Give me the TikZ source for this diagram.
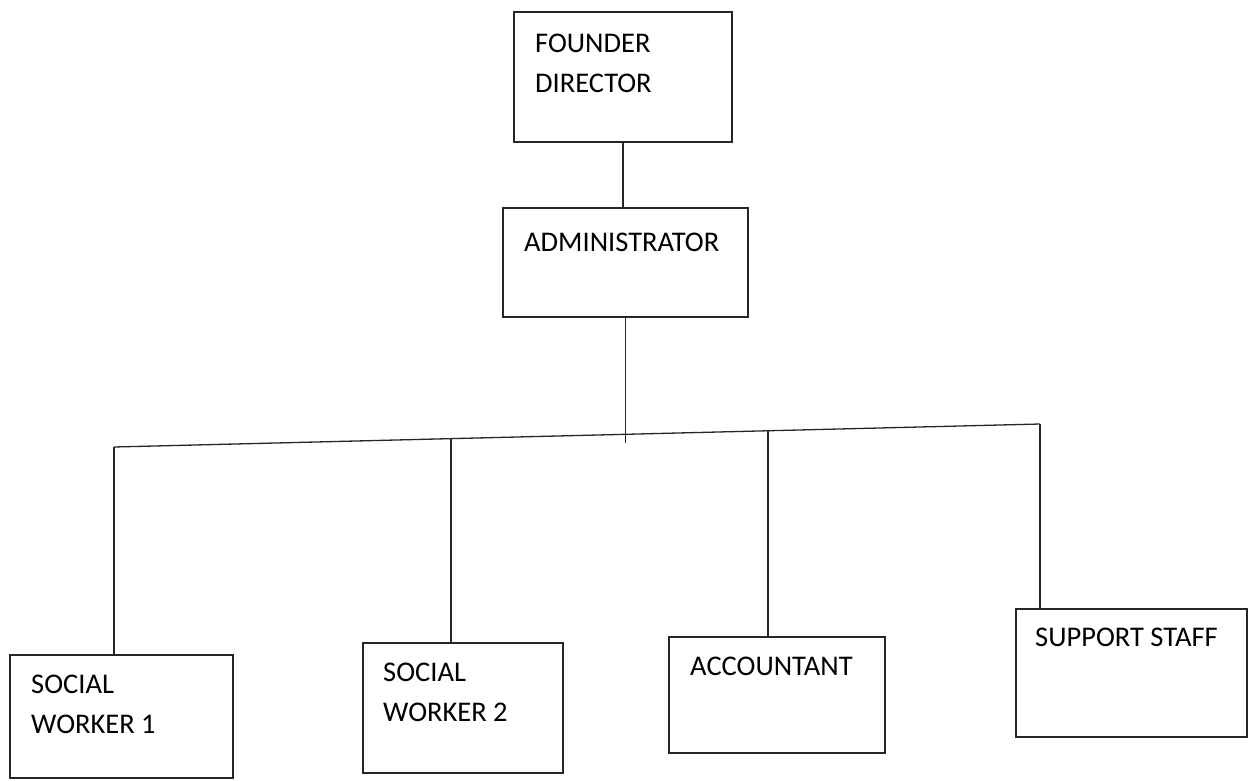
\documentclass[tikz,border=0pt]{standalone}
\usepackage{fontspec}
\setmainfont{Carlito}
\usetikzlibrary{positioning, calc}

\begin{document}
\begin{tikzpicture}[x=1pt, y={(0pt,-1pt)},
  box/.style={draw=black!85, line width=1.3pt, inner sep=0pt},
  lbl/.style={anchor=base west, inner sep=0pt, align=left, font=\fontsize{28.5}{40}\selectfont},
  link/.style={draw=black!85, line width=1.3pt}]
\useasboundingbox (0,0) rectangle (1249,780);

% Boxes
\node[box, minimum width=218pt, minimum height=130pt] (fd) at (623,77) {};
\node[box, minimum width=245pt, minimum height=109pt] (adm) at (625.5,262.5) {};
\node[box, minimum width=223pt, minimum height=123pt] (sw1) at (121.5,716.5) {};
\node[box, minimum width=200pt, minimum height=130pt] (sw2) at (463,708) {};
\node[box, minimum width=216pt, minimum height=116pt] (acc) at (777,695) {};
\node[box, minimum width=231pt, minimum height=128pt] (sup) at (1131.5,673) {};

% Labels (base = last line)
\node[lbl] (fdtxt) at (535,92) {FOUNDER\\DIRECTOR};
\node[lbl] (admtxt) at (524,251) {ADMINISTRATOR};
\node[lbl] (sw1txt) at (31,733) {SOCIAL\\WORKER 1};
\node[lbl] (sw2txt) at (383,721) {SOCIAL\\WORKER 2};
\node[lbl] (acctxt) at (690,675) {ACCOUNTANT};
\node[lbl] (suptxt) at (1035,646) {SUPPORT STAFF};

% Bar points
\coordinate (hub) at (626,443);
\coordinate (b1) at (114,447);
\coordinate (b2) at (451,439);
\coordinate (b3) at (768,431);
\coordinate (b4) at (1040,424);

% Lines
\draw[link] (fd.south) -- (fd.south |- adm.north);
\draw[link] (adm.south) -- (adm.south |- hub);
\draw[link] (b1) -- (b4);
\foreach \b/\n in {b1/sw1, b2/sw2, b3/acc, b4/sup} {
    \draw[link] (\b) -- (\b |- \n.north);
}
\end{tikzpicture}
\end{document}
